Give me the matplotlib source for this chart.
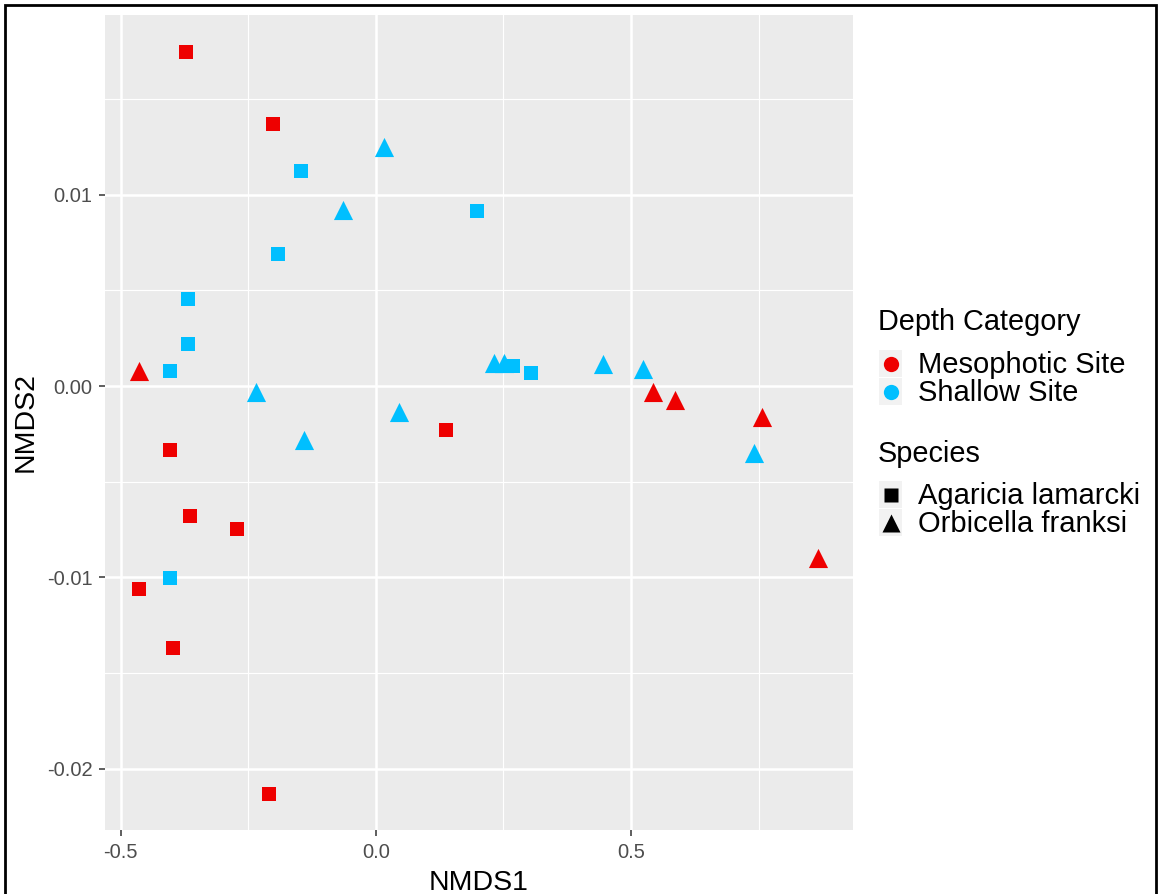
import matplotlib
matplotlib.use('Agg')
import matplotlib.pyplot as plt
from matplotlib.patches import Rectangle
import numpy as np

plt.rcParams['font.family'] = ['Liberation Sans', 'DejaVu Sans']

# NMDS scores
meso_sq_x = [-0.3725, -0.202, -0.404, 0.137, -0.365, -0.2725, -0.465, -0.398, -0.210]
meso_sq_y = [0.01746, 0.01370, -0.00335, -0.0023, -0.0068, -0.00748, -0.01061, -0.0137, -0.02133]
meso_tr_x = [-0.465, 0.543, 0.586, 0.757, 0.867]
meso_tr_y = [0.00078, -0.0003, -0.0007, -0.0016, -0.0090]
shal_sq_x = [-0.147, -0.192, -0.369, -0.369, -0.404, 0.198, 0.269, 0.304, -0.404]
shal_sq_y = [0.01124, 0.0069, 0.00455, 0.0022, 0.00078, 0.00915, 0.00105, 0.00068, -0.01004]
shal_tr_x = [0.0157, -0.065, -0.235, -0.141, 0.045, 0.231, 0.251, 0.445, 0.5235, 0.741]
shal_tr_y = [0.0125, 0.0092, -0.0003, -0.0028, -0.00136, 0.0012, 0.0012, 0.00115, 0.0009, -0.0035]

depth_labels = ['Mesophotic Site', 'Shallow Site']
species_labels = ['Agaricia lamarcki', 'Orbicella franksi']
red = '#EE0000'
blue = '#00BFFF'

W, H = 1158, 894
fig = plt.figure(figsize=(W / 100, H / 100), dpi=100)
ax = fig.add_axes([105 / W, 1 - 830 / H, 748 / W, 815 / H])
ax.set_facecolor('#EBEBEB')
for s in ax.spines.values():
    s.set_visible(False)

ax.set_xlim(-0.531, 0.935)
ax.set_ylim(-0.0232, 0.0194)
ax.set_xticks([-0.5, 0.0, 0.5])
ax.set_xticklabels(['-0.5', '0.0', '0.5'])
ax.set_yticks([-0.02, -0.01, 0.0, 0.01])
ax.set_yticklabels(['-0.02', '-0.01', '0.00', '0.01'])
ax.set_xticks([-0.25, 0.25, 0.75], minor=True)
ax.set_yticks([-0.015, -0.005, 0.005, 0.015], minor=True)
ax.grid(which='major', color='white', lw=1.8)
ax.grid(which='minor', color='white', lw=0.8)
ax.set_axisbelow(True)
ax.tick_params(which='major', length=4, width=1.1, color='#333333',
               labelsize=14.5, labelcolor='#4D4D4D', pad=5)
ax.tick_params(which='minor', length=0)

ax.set_xlabel('NMDS1', fontsize=20.5, labelpad=6)
ax.set_ylabel('NMDS2', fontsize=20.5, labelpad=6)

sq = dict(marker='s', s=110, linewidths=0)
tr = dict(marker='^', s=190, linewidths=0)
ax.scatter(meso_sq_x, meso_sq_y, color=red, **sq)
ax.scatter(meso_tr_x, meso_tr_y, color=red, **tr)
ax.scatter(shal_sq_x, shal_sq_y, color=blue, **sq)
ax.scatter(shal_tr_x, shal_tr_y, color=blue, **tr)

# legend drawn in pixel space, ggplot style (grey key boxes)
lg = fig.add_axes([0, 0, 1, 1], zorder=-1)
lg.set_xlim(0, W)
lg.set_ylim(H, 0)
lg.axis('off')


def legend_block(title, title_base, labels, handles, top):
    lg.text(878, title_base, title, fontsize=20.8, va='baseline', ha='left')
    for i, (lab, (m, ms, c)) in enumerate(zip(labels, handles)):
        y0 = top + i * 28
        lg.add_patch(Rectangle((879, y0), 23, 27, color='#F2F2F2', lw=0))
        lg.plot(890.5, y0 + 13.5, ls='', marker=m, ms=ms, color=c, mec='none')
        lg.text(918, y0 + 23, lab, fontsize=21, va='baseline', ha='left')


legend_block('Depth Category', 330, depth_labels,
             [('o', 11, red), ('o', 11, blue)], 350)
legend_block('Species', 462, species_labels,
             [('s', 10, 'black'), ('^', 13, 'black')], 481)

# outer frame
fig.add_artist(Rectangle((5 / W, -0.01), 1151 / W, 1 - 5 / H + 0.01,
                         transform=fig.transFigure, fill=False, ec='black', lw=2))

fig.savefig('out.png', dpi=100)
